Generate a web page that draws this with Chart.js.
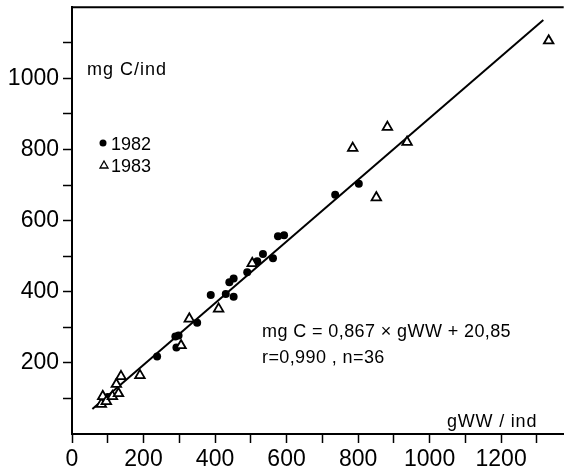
<!DOCTYPE html>
<html>
<head>
<meta charset="utf-8">
<script src="https://cdn.jsdelivr.net/npm/chart.js@4/dist/chart.umd.min.js"></script>
<style>
  html, body { margin: 0; padding: 0; background: #fff; }
  #c { display: block; }
</style>
</head>
<body>
<canvas id="c" width="571" height="471"></canvas>
<script>
// values (gWW/ind, mg C/ind)
const gww1982 = [100, 238, 292, 289, 298, 350, 388, 430, 452, 440, 452, 490, 518, 534, 562, 576, 593, 736, 802];
const mgc1982 = [104, 218, 243, 274, 277, 313, 391, 394, 386, 427, 437, 455, 486, 506, 494, 556, 559, 673, 704];

const gww1983 = [82, 86, 96, 113, 124, 130, 137, 190, 305, 328, 410, 504, 785, 851, 882, 937, 1333];
const mgc1983 = [84, 106, 92, 106, 140, 114, 162, 165, 249, 324, 352, 480, 804, 665, 863, 821, 1106];

// ends of the fitted line as drawn
const fitX = [57, 1318];
const fitY = [70, 1164];

const xTickLabels = [0, 200, 400, 600, 800, 1000, 1200];
const yTickLabels = [200, 400, 600, 800, 1000];

const font = 'Liberation Sans, Arial, sans-serif';

function pairs(xs, ys) {
  return xs.map((x, i) => ({ x: x, y: ys[i] }));
}

const textPlugin = {
  id: 'texts',
  afterDraw(chart) {
    const ctx = chart.ctx;
    ctx.save();
    ctx.fillStyle = '#000';
    ctx.strokeStyle = '#000';
    ctx.textBaseline = 'alphabetic';
    ctx.textAlign = 'left';

    ctx.font = '18px ' + font;
    ctx.letterSpacing = '1px';
    ctx.fillText('mg C/ind', 87, 75);

    // legend
    ctx.letterSpacing = '0px';
    ctx.beginPath();
    ctx.arc(103, 143, 3.5, 0, Math.PI * 2);
    ctx.fill();
    ctx.fillText('1982', 111, 150);
    ctx.lineWidth = 1.3;
    ctx.beginPath();
    ctx.moveTo(100, 168);
    ctx.lineTo(108, 168);
    ctx.lineTo(104, 161);
    ctx.closePath();
    ctx.stroke();
    ctx.fillText('1983', 111, 172);

    ctx.font = '18px ' + font;
    ctx.letterSpacing = '0.4px';
    ctx.fillText('mg C = 0,867 \u00d7 gWW + 20,85', 262, 337);
    ctx.fillText('r=0,990 , n=36', 262, 363);

    ctx.letterSpacing = '0.8px';
    ctx.fillText('gWW / ind', 447, 427);

    // top frame line
    const a = chart.chartArea;
    ctx.lineWidth = 2;
    ctx.beginPath();
    ctx.moveTo(a.left, a.top);
    ctx.lineTo(a.right, a.top);
    ctx.stroke();
    ctx.restore();
  }
};

new Chart(document.getElementById('c'), {
  data: {
    datasets: [
      {
        type: 'line',
        label: 'fit',
        data: pairs(fitX, fitY),
        borderColor: '#000',
        borderWidth: 2,
        pointRadius: 0,
        fill: false,
        order: 3
      },
      {
        type: 'scatter',
        label: '1982',
        data: pairs(gww1982, mgc1982),
        pointStyle: 'circle',
        pointRadius: 4,
        backgroundColor: '#000',
        borderColor: '#000',
        borderWidth: 0,
        order: 2
      },
      {
        type: 'scatter',
        label: '1983',
        data: pairs(gww1983, mgc1983),
        pointStyle: 'triangle',
        pointRadius: 5.5,
        backgroundColor: '#fff',
        borderColor: '#000',
        borderWidth: 1.8,
        order: 1
      }
    ]
  },
  options: {
    responsive: false,
    animation: false,
    devicePixelRatio: 1,
    layout: { padding: { top: 5, right: 0, left: 0, bottom: 0 } },
    plugins: {
      legend: { display: false },
      tooltip: { enabled: false }
    },
    scales: {
      x: {
        type: 'linear',
        position: 'bottom',
        min: 0,
        max: 1375,
        afterBuildTicks(scale) {
          const t = [];
          for (let v = 0; v <= 1300; v += 100) t.push({ value: v });
          scale.ticks = t;
        },
        afterFit(scale) { scale.height = 37; scale.paddingLeft = 0; scale.paddingRight = 0; },
        ticks: {
          autoSkip: false,
          maxRotation: 0,
          padding: 3,
          color: '#000',
          font: { family: font, size: 23 },
          callback: (v) => xTickLabels.includes(v) ? String(v) : ''
        },
        grid: { drawOnChartArea: false, drawTicks: true, tickLength: 9, tickWidth: 1.5, tickColor: '#000' },
        border: { display: true, color: '#000', width: 2 }
      },
      y: {
        type: 'linear',
        position: 'left',
        min: 0,
        max: 1200,
        afterBuildTicks(scale) {
          const t = [];
          for (let v = 100; v <= 1100; v += 100) t.push({ value: v });
          scale.ticks = t;
        },
        afterFit(scale) { scale.width = 72; scale.paddingTop = 0; scale.paddingBottom = 0; },
        ticks: {
          autoSkip: false,
          padding: 4,
          color: '#000',
          font: { family: font, size: 23 },
          callback: (v) => yTickLabels.includes(v) ? String(v) : ''
        },
        grid: { drawOnChartArea: false, drawTicks: true, tickLength: 9, tickWidth: 1.5, tickColor: '#000' },
        border: { display: true, color: '#000', width: 2 }
      }
    }
  },
  plugins: [textPlugin]
});
</script>
</body>
</html>
